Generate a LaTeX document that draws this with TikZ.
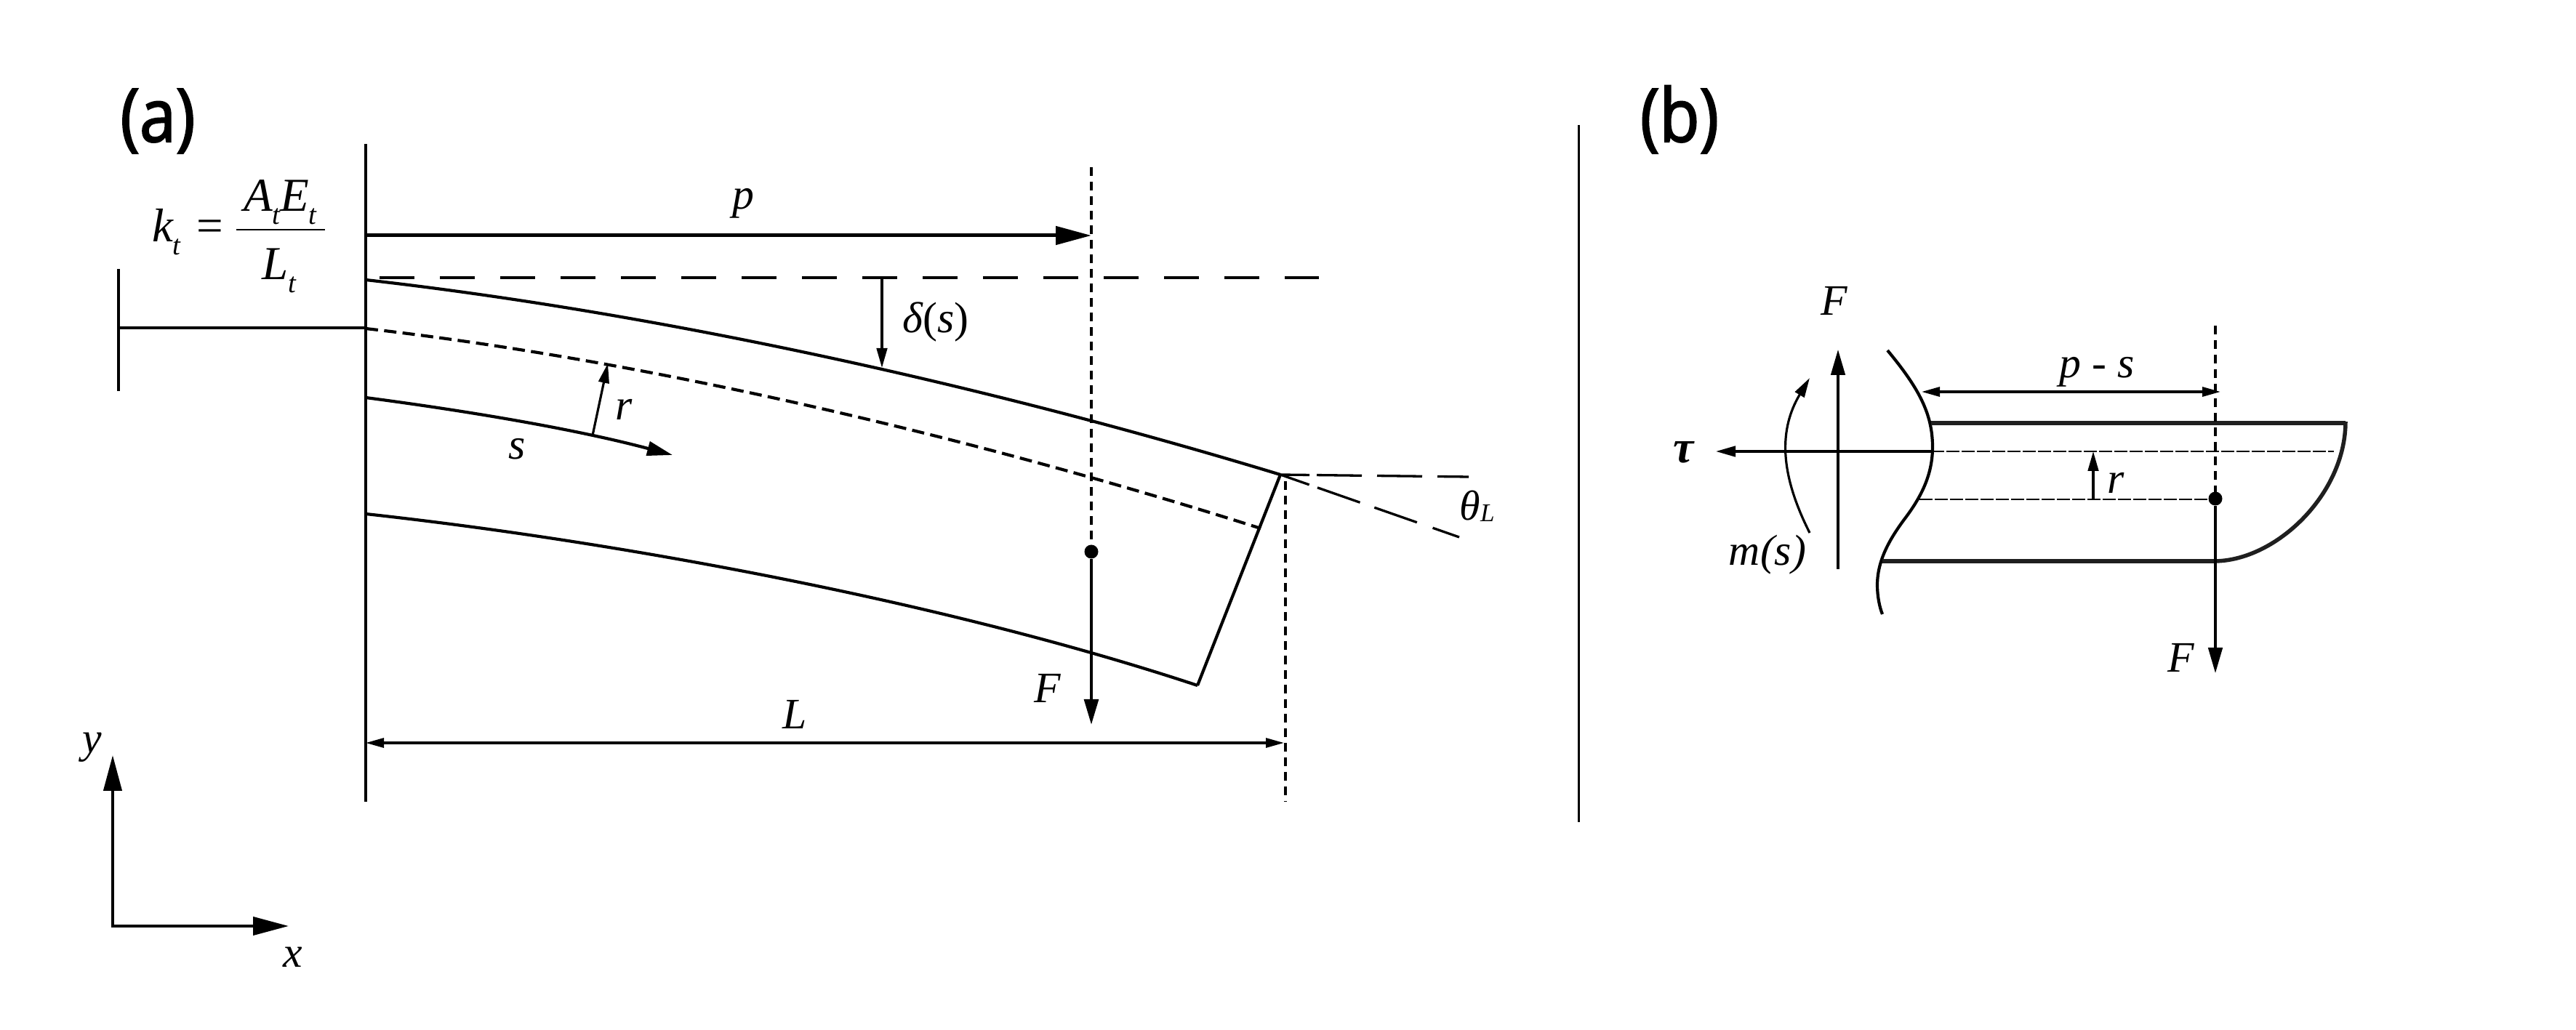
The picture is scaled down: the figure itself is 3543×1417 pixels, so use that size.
\documentclass[tikz,border=0pt]{standalone}
\usepackage{fontspec}
\setmainfont{Liberation Serif}
\newfontfamily\labelfont[FakeBold=2,FakeStretch=0.88]{Open Sans}
\usetikzlibrary{arrows.meta}
\tikzset{
  x=0.1mm,y=-0.1mm,
  line/.style={line width=0.42mm,black},
  thinline/.style={line width=0.32mm,black},
  thick beam/.style={line width=0.55mm,black!88},
  long dash/.style={line width=0.33mm,dash pattern=on 4.8mm off 3.5mm},
  mid dash/.style={line width=0.42mm,dash pattern=on 1.7mm off 0.85mm},
  dotted line/.style={line width=0.38mm,dash pattern=on 1.2mm off 0.8mm},
  fine dash/.style={line width=0.25mm,dash pattern=on 1.8mm off 0.3mm},
  small head/.style={-{Triangle[length=2.7mm,width=1.45mm]}},
  big head/.style={-{Triangle[length=4.9mm,width=2.5mm]}},
  mid head/.style={-{Triangle[length=3.5mm,width=1.95mm]}},
  both heads/.style={{Triangle[length=2.5mm,width=1.3mm]}-{Triangle[length=2.5mm,width=1.3mm]}},
  lab/.style={inner sep=0,anchor=base,font=\fontsize{17}{17}\selectfont\itshape},
  biglab/.style={inner sep=0,anchor=base,font=\fontsize{18.5}{18.5}\selectfont\itshape},
  panel/.style={inner sep=0,anchor=base,font=\labelfont\fontsize{29}{29}\selectfont},
  dot/.style={circle,fill=black,inner sep=0,minimum size=1.9mm},
}
\newcommand{\subT}[1]{\kern-0.01em\raisebox{-0.27em}{\fontsize{11}{11}\selectfont #1}}
\begin{document}
\begin{tikzpicture}
\useasboundingbox (0,0) rectangle (3543,1417);
\fill[white] (0,0) rectangle (3543,1417);
% panel labels
\node[panel] (pa) at (217,195) {(a)};
\node[panel] (pb) at (2310,195) {(b)};
% named points
\coordinate (wallT) at (503,198); \coordinate (wallB) at (503,1103);
\coordinate (barT) at (163,370); \coordinate (barB) at (163,538); \coordinate (barM) at (163,451); \coordinate (wallM) at (503,451);
\coordinate (pS) at (503,324); \coordinate (pE) at (1501,324);
\coordinate (dS) at (522,382); \coordinate (dE) at (1814,382);
\coordinate (tip) at (1761,653); \coordinate (low) at (1647,943);
\coordinate (rS) at (815,599); \coordinate (rE) at (836,500);
\coordinate (delS) at (1213,382); \coordinate (delE) at (1213,506);
\coordinate (vT) at (1501,230);
\coordinate (fE) at (1501,997);
\coordinate (lS) at (503,1022); \coordinate (lE) at (1766,1022);
\coordinate (vB) at (1768,1103); \coordinate (vA) at (1768,662);
\coordinate (hE) at (2020,656); \coordinate (sE) at (2007,739);
\coordinate (org) at (155,1276); \coordinate (yE) at (155,1039); \coordinate (xE) at (397,1274);
\coordinate (divT) at (2171.5,172); \coordinate (divB) at (2171.5,1131);
% panel a
\draw[line] (wallT) -- (wallB);
\draw[line] (barT) -- (barB);
\draw[line] (barM) -- (wallM);
\draw[line,big head,line width=0.5mm] (pS) -- (pE);
\draw[long dash] (dS) -- (dE);
\draw[line] (503,385) .. controls (900,430) and (1350,528) .. (tip);
\draw[mid dash] (503,452) .. controls (900,497) and (1350,605) .. (1734,727);
\draw[line,mid head] (503,547) .. controls (640,565) and (790,590) .. (925,626);
\draw[line] (503,707) .. controls (850,745) and (1300,828) .. (low);
\draw[line] (low) -- (tip);
\draw[thinline,small head] (rS) -- (rE);
\draw[thinline,small head] (delS) -- (delE);
\draw[dotted line] (vT) -- (1501,759);
\node[dot] (load) at (1501,759) {};
\draw[line,mid head] (load) -- (fE);
\draw[thinline,both heads] (lS) -- (lE);
\draw[dotted line] (vA) -- (vB);
\draw[long dash,dash pattern=on 4mm off 1mm on 6.2mm off 2.1mm on 6.2mm off 2.1mm on 6mm off 1mm] (tip) -- (hE);
\draw[long dash,dash pattern=on 4.2mm off 1.2mm on 6.2mm off 2.1mm on 6.2mm off 2.3mm on 6mm off 1mm] (tip) -- (sE);
\node[lab] (lp) at (1022,288) {p};
\node[lab] (ldel) at (1287,458) {δ\upshape(\textit{s})};
\node[lab] (lr) at (858,578) {r};
\node[lab] (ls) at (711,632) {s};
\node[lab] (lF) at (1441,967) {F};
\node[lab] (lL) at (1093,1003) {L};
\node[inner sep=0,anchor=base west,font=\fontsize{16.5}{16.5}\selectfont] (lth) at (2007,716) {\textit{θ}\raisebox{-0.02em}{\fontsize{10}{10}\selectfont\textit{L}}};
% formula
\node[biglab,anchor=base west] (kt) at (209,333) {k\subT{t}};
\node[inner sep=0,anchor=base,font=\fontsize{18.5}{18.5}\selectfont] (eq) at (289,333) {=};
\node[biglab] (num) at (385,291) {A\subT{t}E\subT{t}};
\node[biglab] (den) at (384,385) {L\subT{t}};
\draw[line width=0.24mm] (325,316) -- (447,316);
% axes
\draw[line,big head] (org) -- (yE);
\draw[line,big head] (153,1274) -- (xE);
\node[lab] (ly) at (127,1036) {y};
\node[lab] (lx) at (403,1331) {x};
% divider
\draw[line,line width=0.3mm] (divT) -- (divB);
% panel b
\draw[thinline,mid head] (2528,783) -- (2528,481);
\draw[thinline,small head] (2656,621) -- (2360,621);
\draw[thinline,small head] (2489,733) .. controls (2447,650) and (2447,590) .. (2489,520);
\draw[line] (2596,482) .. controls (2640,535) and (2658,570) .. (2658,615) .. controls (2658,650) and (2645,680) .. (2621,712) .. controls (2600,740) and (2582,770) .. (2582,805) .. controls (2582,820) and (2585,835) .. (2589,845);
\draw[thick beam] (2656,582) -- (3226,582);
\draw[thick beam] (2589,772) -- (3045,772);
\draw[thick beam] (3226,580) .. controls (3226,680) and (3130,772) .. (3045,772);
\draw[fine dash] (2656,621) -- (3210,621);
\draw[fine dash] (2640,687) -- (3038,687);
\draw[dotted line,line width=0.32mm] (3047,448) -- (3047,686);
\node[dot] (loadb) at (3047,686) {};
\draw[thinline,mid head] (loadb) -- (3047,926);
\draw[thinline,both heads] (2643,539) -- (3054,539);
\draw[thinline,small head] (2879,687) -- (2879,621);
\node[lab] (lFt) at (2523,434) {F};
\node[lab,font=\fontsize{18}{18}\selectfont\bfseries\itshape] (ltau) at (2316,637) {τ};
\node[lab] (lm) at (2431,778) {m(s)};
\node[lab] (lps) at (2884,520) {p - s};
\node[lab] (lrb) at (2910,679) {r};
\node[lab] (lFb) at (3000,925) {F};
\end{tikzpicture}
\end{document}
